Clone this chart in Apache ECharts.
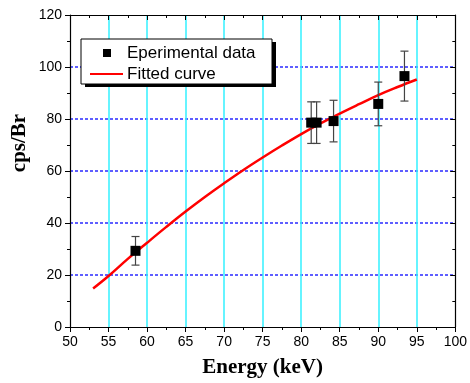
<!DOCTYPE html>
<html><head><meta charset="utf-8">
<script src="https://cdn.jsdelivr.net/npm/echarts@6/dist/echarts.min.js"></script>
<style>html,body{margin:0;padding:0;background:#fff}#c{width:470px;height:383px}</style>
</head><body><div id="c"></div>
<script>
// Experimental data
var energy = [58.5, 81.3, 82.0, 84.2, 90.0, 93.4];
var cps = [29.3, 78.6, 78.6, 79.2, 85.8, 96.5];
var err = [5.5, 8.0, 8.0, 8.0, 8.4, 9.6];
// Fitted curve
var fitX = [53, 55, 57.5, 60, 62.5, 65, 67.5, 70, 72.5, 75, 77.5, 80, 82.5, 85, 87.5, 90, 92.5, 95];
var fitY = [14.8, 19.6, 26.2, 32.4, 38.5, 44.4, 50.0, 55.3, 60.4, 65.2, 69.8, 74.2, 78.3, 82.1, 85.7, 89.2, 92.3, 95.2];
var legendNames = ['Eperimental data', 'Fitted curve'];
var xTitle = 'Energy (keV)';
var yTitle = 'cps/Br';

var chart = echarts.init(document.getElementById('c'), null, {renderer: 'canvas'});
var scatterData = energy.map(function (e, i) { return [e, cps[i]]; });
var errData = energy.map(function (e, i) { return [e, cps[i] - err[i], cps[i] + err[i]]; });
var fitData = fitX.map(function (x, i) { return [x, fitY[i]]; });
var lblFont = {fontFamily: 'Liberation Sans', fontSize: 14, color: '#000'};

var option = {
  animation: false,
  grid: {left: 70, right: 13, top: 15, bottom: 56, containLabel: false},
  xAxis: [{
    type: 'value', min: 50, max: 100, interval: 5, position: 'bottom',
    name: xTitle, nameLocation: 'middle', nameGap: 30,
    nameTextStyle: {fontFamily: 'Liberation Serif', fontWeight: 'bold', fontSize: 21, color: '#000'},
    axisLine: {show: true, onZero: false, lineStyle: {color: '#000', width: 1.2}},
    axisTick: {show: true, inside: false, length: 5, lineStyle: {color: '#000'}},
    minorTick: {show: true, splitNumber: 2, length: 3, lineStyle: {color: '#000'}},
    axisLabel: Object.assign({margin: 8}, lblFont),
    splitLine: {show: true, showMinLine: false, showMaxLine: false, lineStyle: {color: '#33f0ff', width: 1.5}}
  }, {
    type: 'value', min: 50, max: 100, interval: 5, position: 'top',
    axisLine: {show: true, onZero: false, lineStyle: {color: '#000', width: 1.2}},
    axisTick: {show: true, inside: true, length: 5, lineStyle: {color: '#000'}},
    minorTick: {show: true, splitNumber: 2, length: 3, lineStyle: {color: '#000'}},
    axisLabel: {show: false}, splitLine: {show: false}
  }],
  yAxis: [{
    type: 'value', min: 0, max: 120, interval: 20, position: 'left',
    axisLine: {show: true, onZero: false, lineStyle: {color: '#000', width: 1.2}},
    axisTick: {show: true, inside: false, length: 5, lineStyle: {color: '#000'}},
    minorTick: {show: true, splitNumber: 2, length: 3, lineStyle: {color: '#000'}},
    axisLabel: Object.assign({margin: 8}, lblFont),
    splitLine: {show: true, showMinLine: false, showMaxLine: false, lineStyle: {color: '#2a2aff', width: 1.5, type: [3, 2]}}
  }, {
    type: 'value', min: 0, max: 120, interval: 20, position: 'right',
    axisLine: {show: true, onZero: false, lineStyle: {color: '#000', width: 1.2}},
    axisTick: {show: true, inside: true, length: 5, lineStyle: {color: '#000'}},
    minorTick: {show: true, splitNumber: 2, length: 3, lineStyle: {color: '#000'}},
    axisLabel: {show: false}, splitLine: {show: false}
  }],
  series: [{
    name: legendNames[1], type: 'line', data: fitData, smooth: 0.4, symbol: 'none',
    lineStyle: {color: '#ff0000', width: 2.5}, z: 3
  }, {
    name: 'errors', type: 'custom', data: errData, z: 4,
    renderItem: function (params, api) {
      var x = api.value(0);
      var lo = api.coord([x, api.value(1)]);
      var hi = api.coord([x, api.value(2)]);
      var hw = 4;
      var st = {stroke: '#444', lineWidth: 1.2};
      return {type: 'group', children: [
        {type: 'line', shape: {x1: lo[0], y1: lo[1], x2: hi[0], y2: hi[1]}, style: st},
        {type: 'line', shape: {x1: lo[0] - hw, y1: lo[1], x2: lo[0] + hw, y2: lo[1]}, style: st},
        {type: 'line', shape: {x1: hi[0] - hw, y1: hi[1], x2: hi[0] + hw, y2: hi[1]}, style: st}
      ]};
    }
  }, {
    name: legendNames[0], type: 'scatter', data: scatterData, symbol: 'rect', symbolSize: 10,
    itemStyle: {color: '#000', opacity: 1}, z: 5
  }],
  graphic: [{
    type: 'text', x: 20, y: 143, rotation: Math.PI / 2, z: 100,
    style: {text: yTitle, font: 'bold 21px "Liberation Serif"', fill: '#000', align: 'center', verticalAlign: 'middle'}
  }, {
    type: 'rect', x: 85, y: 42, z: 100, z2: 0, shape: {x: 0, y: 0, width: 191, height: 45}, style: {fill: '#000'}
  }, {
    type: 'rect', x: 81, y: 39, z: 100, z2: 1, shape: {x: 0, y: 0, width: 191, height: 45}, style: {fill: '#fff', stroke: '#000', lineWidth: 1}
  }, {
    type: 'rect', x: 103, y: 49, z: 100, z2: 2, shape: {x: 0, y: 0, width: 8, height: 8}, style: {fill: '#000'}
  }, {
    type: 'text', x: 127, y: 53, z: 100, z2: 2, style: {text: legendNames[0], font: '17px "Liberation Sans"', fill: '#000', verticalAlign: 'middle'}
  }, {
    type: 'line', x: 0, y: 0, z: 100, z2: 2, shape: {x1: 90, y1: 74, x2: 123, y2: 74}, style: {stroke: '#ff0000', lineWidth: 2}
  }, {
    type: 'text', x: 127, y: 74, z: 100, z2: 2, style: {text: legendNames[1], font: '17px "Liberation Sans"', fill: '#000', verticalAlign: 'middle'}
  }]
};
chart.setOption(option);
</script></body></html>
